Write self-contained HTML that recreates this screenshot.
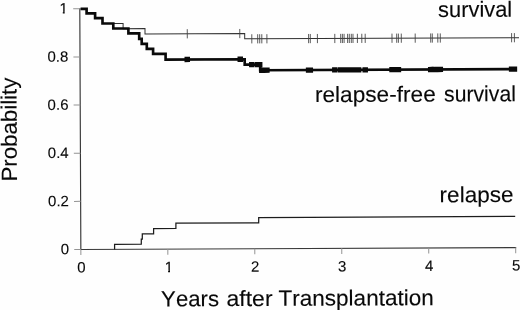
<!DOCTYPE html>
<html lang="en">
<head>
<meta charset="utf-8">
<title>Probability of survival, relapse-free survival and relapse</title>
<style>
html,body{margin:0;padding:0;background:#fefefe;}
body{width:520px;height:310px;overflow:hidden;}
svg{display:block;}
</style>
</head>
<body>
<svg width="520" height="310" viewBox="0 0 520 310">
<rect width="520" height="310" fill="#fefefe"/>
<g transform="rotate(-0.25 80.85 249.5)">
<g fill="none" stroke-linecap="butt">
<path d="M80.85 8.3 V249.5 H516.2" stroke="#383838" stroke-width="1.15"/>
<path d="M80.85 249.5v5.6M167.82 249.5v5.6M254.79 249.5v5.6M341.76 249.5v5.6M428.73 249.5v5.6M515.7 249.5v5.6M80.85 249.5h-6.6M80.85 201.36h-6.6M80.85 153.22h-6.6M80.85 105.08h-6.6M80.85 56.94h-6.6M80.85 8.8h-6.6" stroke="#939393" stroke-width="1"/>
<polyline points="114.6,249.55 114.6,249.55 114.62,244.41 141.32,244.41 141.34,239.47 142.34,239.47 142.37,234.19 153.67,234.19 153.69,228.87 175.99,228.87 176.01,223.58 258.81,223.58 258.84,218.34 515.34,218.34" stroke="#1c1c1c" stroke-width="1.25" stroke-linejoin="miter"/>
<polyline points="81.65,8.91 87.65,8.91 87.63,13.45 96.13,13.45 96.11,18.18 103.51,18.18 103.49,23.64 124.09,23.64 124.06,28.83 145.96,28.83 145.94,34.25 245.64,34.25 245.62,39.58 519.92,39.58" stroke="#303030" stroke-width="1.0" stroke-linejoin="miter"/>
<path d="M188.22 29.65v9.2M240.72 29.65v9.2M252.72 34.98v9.2M258.62 34.98v9.2M260.62 34.98v9.2M262.72 34.98v9.2M267.82 34.98v9.2M309.52 34.98v9.2M311.22 34.98v9.2M318.32 34.98v9.2M335.72 34.98v9.2M341.62 34.98v9.2M343.32 34.98v9.2M345.02 34.98v9.2M348.52 34.98v9.2M350.22 34.98v9.2M352.22 34.98v9.2M353.92 34.98v9.2M358.32 34.98v9.2M362.72 34.98v9.2M366.12 34.98v9.2M392.92 34.98v9.2M397.62 34.98v9.2M399.32 34.98v9.2M402.22 34.98v9.2M416.12 34.98v9.2M431.62 34.98v9.2M433.22 34.98v9.2M438.72 34.98v9.2M441.22 34.98v9.2M512.52 34.98v9.2M515.32 34.98v9.2" stroke="#404040" stroke-width="0.85"/>
<polyline points="81.65,8.91 87.65,8.91 87.63,13.45 96.13,13.45 96.11,18.18 103.51,18.18 103.49,23.62 114.29,23.62 114.26,28.68 129.36,28.68 129.34,33.63 140.14,33.63 140.12,39.06 142.62,39.06 142.6,44.08 147.7,44.08 147.67,49.2 153.97,49.2 153.95,54.24 166.45,54.24 166.43,59.94 245.53,59.94 245.51,65.35 261.01,65.35 260.98,71.05 517.28,71.05" stroke="#0a0a0a" stroke-width="2.65" stroke-linejoin="miter"/>
</g>
<path d="M185.35 57.29h5.5v5.3h-5.5zM238.35 57.29h5.5v5.3h-5.5zM249.85 62.7h5.5v5.3h-5.5zM255.75 62.7h5.5v5.3h-5.5zM257.75 62.7h5.5v5.3h-5.5zM259.85 68.4h5.5v5.3h-5.5zM264.95 68.4h5.5v5.3h-5.5zM306.65 68.4h5.5v5.3h-5.5zM308.35 68.4h5.5v5.3h-5.5zM332.85 68.4h5.5v5.3h-5.5zM338.75 68.4h5.5v5.3h-5.5zM340.45 68.4h5.5v5.3h-5.5zM342.15 68.4h5.5v5.3h-5.5zM345.65 68.4h5.5v5.3h-5.5zM347.35 68.4h5.5v5.3h-5.5zM349.35 68.4h5.5v5.3h-5.5zM351.05 68.4h5.5v5.3h-5.5zM355.45 68.4h5.5v5.3h-5.5zM356.65 68.4h5.5v5.3h-5.5zM363.25 68.4h5.5v5.3h-5.5zM390.05 68.4h5.5v5.3h-5.5zM394.75 68.4h5.5v5.3h-5.5zM396.45 68.4h5.5v5.3h-5.5zM428.75 68.4h5.5v5.3h-5.5zM430.35 68.4h5.5v5.3h-5.5zM435.85 68.4h5.5v5.3h-5.5zM438.35 68.4h5.5v5.3h-5.5zM509.65 68.4h5.5v5.3h-5.5zM512.45 68.4h5.5v5.3h-5.5z" fill="#0a0a0a"/>
<g font-family="'Liberation Sans', Arial, Helvetica, sans-serif" fill="#080808" stroke="#080808" stroke-width="0.12" style="font-kerning:none">
<text font-size="22"><tspan x="439.11" y="18.56" textLength="74.1" lengthAdjust="spacingAndGlyphs">survival</tspan></text>
<text font-size="22"><tspan x="315.54" y="103.12" textLength="120.9" lengthAdjust="spacingAndGlyphs">relapse-free</tspan> <tspan x="444.74" y="103.1" textLength="71.8" lengthAdjust="spacingAndGlyphs">survival</tspan></text>
<text font-size="22"><tspan x="439.8" y="203.87" textLength="73.9" lengthAdjust="spacingAndGlyphs">relapse</tspan></text>
<text font-size="22"><tspan x="160.85" y="306.75" textLength="58" lengthAdjust="spacingAndGlyphs">Years</tspan> <tspan x="226.25" y="306.72" textLength="46.1" lengthAdjust="spacingAndGlyphs">after</tspan> <tspan x="278.15" y="306.7" textLength="155.5" lengthAdjust="spacingAndGlyphs">Transplantation</tspan></text>
<text x="69.1" y="254.2" font-size="15" text-anchor="end">0</text>
<text x="69.1" y="206.06" font-size="15" text-anchor="end">0.2</text>
<text x="69.1" y="157.92" font-size="15" text-anchor="end">0.4</text>
<text x="69.1" y="109.78" font-size="15" text-anchor="end">0.6</text>
<text x="69.1" y="61.64" font-size="15" text-anchor="end">0.8</text>
<clipPath id="k1"><path d="M58.73 -0.5H70.73V11.75H65.73V14.5H63.83V11.75H58.73Z"/></clipPath>
<text x="68.9" y="13.5" font-size="15" text-anchor="end" clip-path="url(#k1)">1</text>
<text x="81.25" y="272.5" font-size="15" text-anchor="middle">0</text>
<clipPath id="k2"><path d="M162.92 258.5H174.92V270.75H169.92V273.5H168.02V270.75H162.92Z"/></clipPath>
<text x="168.92" y="272.5" font-size="15" text-anchor="middle" clip-path="url(#k2)">1</text>
<text x="255.19" y="272.5" font-size="15" text-anchor="middle">2</text>
<text x="342.16" y="272.5" font-size="15" text-anchor="middle">3</text>
<text x="429.13" y="272.5" font-size="15" text-anchor="middle">4</text>
<text x="516.1" y="272.5" font-size="15" text-anchor="middle">5</text>
<text transform="translate(17.2 181.32) rotate(-90)" font-size="22" textLength="104" lengthAdjust="spacingAndGlyphs">Probability</text>
</g>
</g>
</svg>
</body>
</html>
